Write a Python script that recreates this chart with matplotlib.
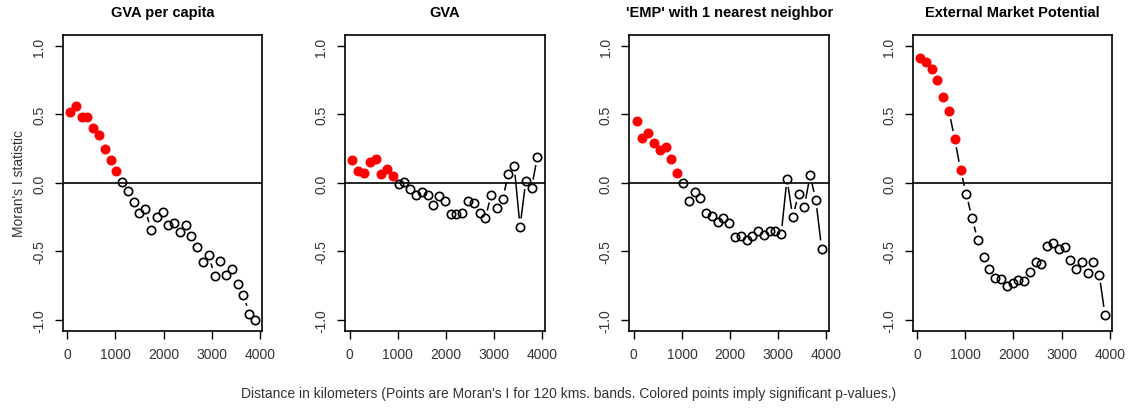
import numpy as np
import matplotlib
matplotlib.use("Agg")
import matplotlib.pyplot as plt

plt.rcParams['font.family'] = ['Liberation Sans', 'DejaVu Sans']

# distance bands (120 km), centres
dist = [60 + 120 * k for k in range(33)]

titles = ["GVA per capita", "GVA", "'EMP' with 1 nearest neighbor",
          "External Market Potential"]

gva_pc = [0.52, 0.56, 0.48, 0.48, 0.40, 0.35, 0.25, 0.17, 0.09, 0.01,
          -0.06, -0.14, -0.22, -0.19, -0.345, -0.25, -0.21, -0.31, -0.29,
          -0.36, -0.31, -0.39, -0.47, -0.58, -0.53, -0.68, -0.57, -0.67,
          -0.63, -0.74, -0.82, -0.955, -1.0]
gva = [0.17, 0.09, 0.07, 0.155, 0.175, 0.065, 0.10, 0.05, -0.01, 0.01,
       -0.045, -0.09, -0.07, -0.09, -0.16, -0.095, -0.135, -0.225, -0.23,
       -0.22, -0.135, -0.145, -0.22, -0.26, -0.085, -0.18, -0.115, 0.065,
       0.12, -0.32, 0.015, -0.035, 0.19]
emp_nn = [0.45, 0.325, 0.365, 0.29, 0.24, 0.26, 0.175, 0.07, 0.0, -0.13,
          -0.07, -0.11, -0.22, -0.24, -0.285, -0.26, -0.29, -0.395, -0.39,
          -0.42, -0.385, -0.355, -0.38, -0.35, -0.355, -0.375, 0.03, -0.25,
          -0.08, -0.175, 0.055, -0.125, -0.48]
emp = [0.91, 0.88, 0.835, 0.755, 0.63, 0.525, 0.32, 0.095, -0.08, -0.26,
       -0.42, -0.54, -0.63, -0.695, -0.70, -0.75, -0.735, -0.71, -0.715,
       -0.65, -0.575, -0.59, -0.46, -0.44, -0.48, -0.47, -0.565, -0.63,
       -0.58, -0.66, -0.58, -0.67, -0.965]
series = [gva_pc, gva, emp_nn, emp]
# number of leading significant (red) points per panel
n_signif = [9, 8, 8, 8]

fig = plt.figure(figsize=(11.38, 4.10), dpi=100)
lefts = [0.0551, 0.3032, 0.553, 0.802]
gap = 9.0  # pixels of gap around points, like R type="b"

for i, (titulo, vals) in enumerate(zip(titles, series)):
    ax = fig.add_axes([lefts[i], 0.191, 0.1755, 0.721])
    ax.set_xlim(-93.6, 4053.6)
    ax.set_ylim(-1.08, 1.08)
    ax.axhline(0, color='black', lw=1.2, zorder=1)

    # lines between points with gaps (computed in pixel space)
    pts = ax.transData.transform(np.column_stack([dist, vals]))
    inv = ax.transData.inverted()
    for a, b in zip(pts[:-1], pts[1:]):
        d = b - a
        L = np.hypot(*d)
        if L > 2 * gap + 1:
            u = d / L
            seg = inv.transform(np.array([a + u * gap, b - u * gap]))
            ax.plot(seg[:, 0], seg[:, 1], color='black', lw=1.1, zorder=2)

    k = n_signif[i]
    ax.plot(dist[:k], vals[:k], 'o', color='red', ms=6.2, mec='red', zorder=3)
    ax.plot(dist[k:], vals[k:], 'o', mfc='none', mec='black', ms=6.0,
            mew=1.2, zorder=3)

    ax.set_title(titulo, fontsize=10.5, fontweight='bold', pad=14)
    ax.set_xticks([0, 1000, 2000, 3000, 4000])
    ax.set_yticks([-1.0, -0.5, 0.0, 0.5, 1.0])
    ax.set_yticklabels(["-1.0", "-0.5", "0.0", "0.5", "1.0"], rotation=90,
                       va='center')
    ax.tick_params(direction='out', length=6, width=1, labelsize=10,
                   labelcolor='#333333', pad=6)
    for s in ax.spines.values():
        s.set_linewidth(1.2)
    if i == 0:
        ax.set_ylabel("Moran's I statistic", fontsize=10, color='#333333')

fig.text(0.5, 0.03, "Distance in kilometers (Points are Moran's I for 120 kms. bands. "
         "Colored points imply significant p-values.)", ha='center',
         fontsize=10, color='#333333')

fig.savefig("out.png", dpi=100)
